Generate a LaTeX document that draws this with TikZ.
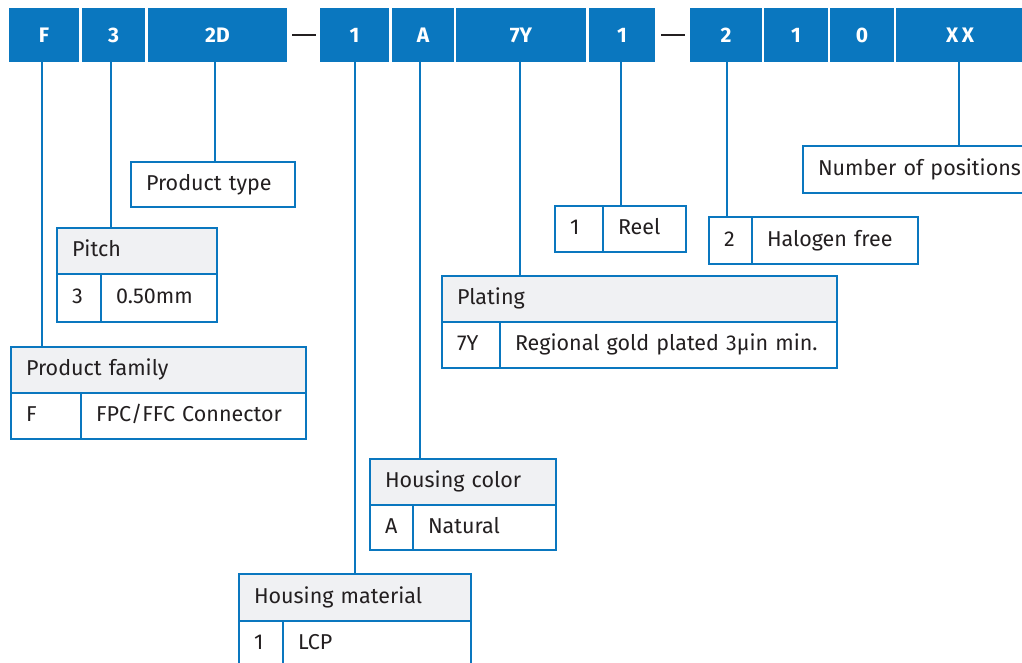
\documentclass[tikz,border=0pt]{standalone}
\usepackage{fontspec}
\setmainfont{Fira Sans}
\usetikzlibrary{positioning}
\definecolor{teblue}{HTML}{0A77BF}
\definecolor{hdrgray}{HTML}{F0F1F3}
\definecolor{txtgray}{HTML}{231F20}
\tikzset{
  digit/.style={fill=teblue, text=white, font=\bfseries\fontsize{21}{24}\selectfont,
    minimum height=54pt, inner sep=0pt, outer sep=0pt, anchor=north west,
    text height=15pt, text depth=0pt},
  cell/.style={draw=teblue, line width=2pt, fill=white, text=txtgray,
    font=\fontsize{21.5}{24}\selectfont, anchor=north west, align=left,
    inner xsep=15pt, inner ysep=0pt, outer sep=0pt, minimum height=46pt,
    text height=15pt, text depth=4pt},
  hdr/.style={cell, fill=hdrgray},
  link/.style={draw=teblue, line width=2pt},
  sepline/.style={draw=txtgray, line width=2pt}
}
\begin{document}
\begin{tikzpicture}[x=1pt, y=-1pt]
  \useasboundingbox (0,0) rectangle (1022,662);
  % part number
  \node[digit, minimum width=70pt] (cF) at (9,8) {F};
  \node[digit, minimum width=63pt] (c3) at (82,8) {3};
  \node[digit, minimum width=139pt] (c2D) at (148,8) {2D};
  \node[digit, minimum width=69pt] (c1) at (320,8) {1};
  \node[digit, minimum width=62pt] (cA) at (392,8) {A};
  \node[digit, minimum width=130pt] (c7Y) at (456,8) {7Y};
  \node[digit, minimum width=66pt] (cR) at (589,8) {1};
  \node[digit, minimum width=72pt] (cH) at (690,8) {2};
  \node[digit, minimum width=64pt] (cX) at (764,8) {1};
  \node[digit, minimum width=64pt] (cZ) at (830,8) {0};
  \node[digit, minimum width=128pt] (cN) at (896,8) {X\,X};
  \draw[sepline] ([xshift=5pt]c2D.east) -- ([xshift=-4pt]c1.west);
  \draw[sepline] ([xshift=6pt]cR.east) -- ([xshift=-5pt]cH.west);

  % product family
  \node[hdr, text width=265pt] (famH) at (11,347) {Product family};
  \node[cell, text width=40pt] (famK) at (famH.south west) {F};
  \node[cell, text width=195pt] (famV) at (famK.north east) {FPC/FFC Connector};
  % pitch
  \node[hdr, text width=130pt] (pitH) at (57,228) {Pitch};
  \node[cell, text width=14pt, minimum height=48pt] (pitK) at (pitH.south west) {3};
  \node[cell, text width=86pt, minimum height=48pt] (pitV) at (pitK.north east) {0.50mm};
  % product type
  \node[cell, text width=134pt, minimum height=45pt] (typ) at (131,162) {Product type};
  % housing material
  \node[hdr, text width=202pt, minimum height=47pt] (matH) at (239,574) {Housing material};
  \node[cell, text width=14pt] (matK) at (matH.south west) {1};
  \node[cell, text width=158pt] (matV) at (matK.north east) {LCP};
  % housing color
  \node[hdr, text width=156pt] (colH) at (370,459) {Housing color};
  \node[cell, text width=13pt, minimum height=45pt] (colK) at (colH.south west) {A};
  \node[cell, text width=113pt, minimum height=45pt] (colV) at (colK.north east) {Natural};
  % plating
  \node[hdr, text width=365pt] (plaH) at (442,276) {Plating};
  \node[cell, text width=28pt] (plaK) at (plaH.south west) {7Y};
  \node[cell, text width=307pt] (plaV) at (plaK.north east) {Regional gold plated 3μin min.};
  % packaging
  \node[cell, text width=18pt] (reeK) at (555,206) {1};
  \node[cell, text width=53pt] (reeV) at (reeK.north east) {Reel};
  % halogen
  \node[cell, text width=13pt, minimum height=47pt] (halK) at (709,217) {2};
  \node[cell, text width=136pt, minimum height=47pt] (halV) at (halK.north east) {Halogen free};
  % positions
  \node[cell, text width=210pt, minimum height=47pt] (pos) at (803,146) {Number of positions};

  % leaders
  \draw[link] ([xshift=-2pt]cF.south) -- ([xshift=-2pt]cF.south |- famH.north);
  \draw[link] ([xshift=-3pt]c3.south) -- ([xshift=-3pt]c3.south |- pitH.north);
  \draw[link] ([xshift=-3pt]c2D.south) -- ([xshift=-3pt]c2D.south |- typ.north);
  \draw[link] (c1.south) -- (c1.south |- matH.north);
  \draw[link] ([xshift=-3pt]cA.south) -- ([xshift=-3pt]cA.south |- colH.north);
  \draw[link] ([xshift=-1pt]c7Y.south) -- ([xshift=-1pt]c7Y.south |- plaH.north);
  \draw[link] ([xshift=-1pt]cR.south) -- ([xshift=-1pt]cR.south |- reeK.north);
  \draw[link] ([xshift=1pt]cH.south) -- ([xshift=1pt]cH.south |- halK.north);
  \draw[link] ([xshift=-1pt]cN.south) -- ([xshift=-1pt]cN.south |- pos.north);
\end{tikzpicture}
\end{document}
